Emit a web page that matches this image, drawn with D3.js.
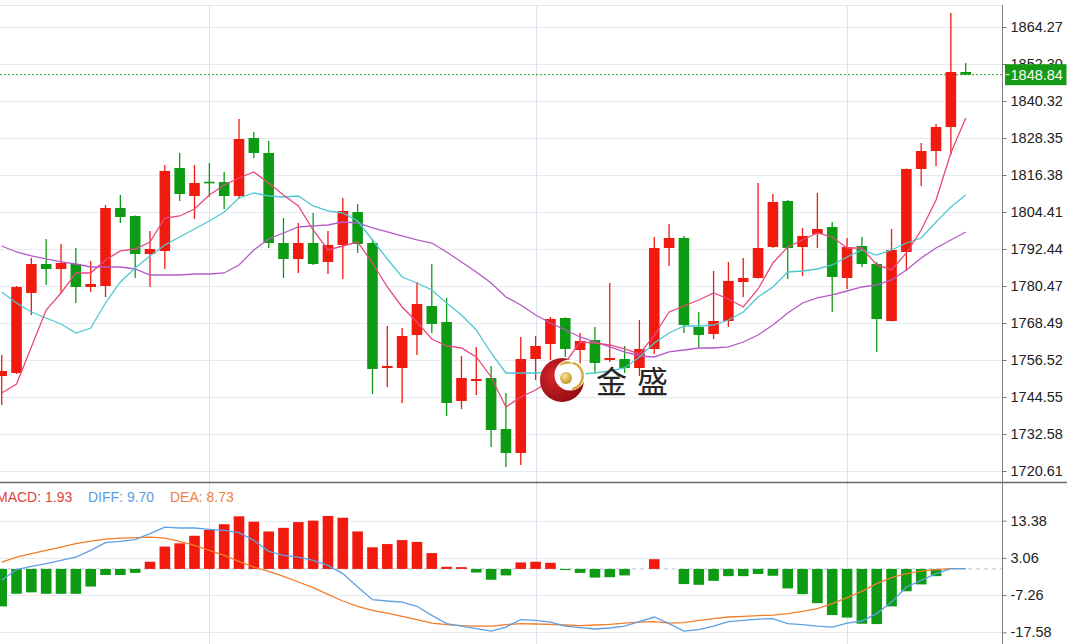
<!DOCTYPE html>
<html><head><meta charset="utf-8">
<script src="https://cdn.jsdelivr.net/npm/d3@7"></script>
<style>body{margin:0;background:#fff;} svg{display:block;}</style>
</head><body><svg id="c" width="1067" height="644"></svg>
<script>
// ---------- DATA ----------
const openP = [1751.35,1752.32,1778.21,1787.59,1785.97,1787.59,1780.15,1780.47,1805.71,1803.12,
1790.83,1791.80,1818.65,1809.59,1814.20,1814.10,1809.59,1828.36,1823.51,1794.38,
1789.21,1794.38,1788.24,1793.74,1804.42,1794.38,1753.94,1753.94,1764.62,1774.00,
1768.82,1743.26,1749.73,1750.70,1734.20,1726.44,1756.85,1761.71,1770.12,1759.76,
1763.00,1756.53,1756.85,1753.94,1760.09,1792.77,1796.00,1767.21,1764.94,1769.15,
1781.77,1783.06,1793.09,1807.97,1793.09,1797.30,1799.56,1783.06,1793.41,1787.59,
1769.15,1791.47,1818.33,1824.15,1831.92,1849.71];
const highP = [1758.15,1780.47,1789.53,1795.68,1794.06,1792.77,1788.56,1806.68,1809.92,1803.30,
1798.27,1819.62,1823.51,1819.62,1820.27,1817.36,1834.51,1830.30,1827.39,1802.47,
1800.86,1804.09,1798.27,1808.95,1807.00,1795.68,1767.53,1766.88,1781.77,1787.59,
1776.59,1757.82,1760.74,1754.59,1745.85,1763.97,1764.29,1770.44,1770.30,1765.26,
1767.21,1781.44,1761.06,1769.47,1796.33,1800.53,1796.65,1772.06,1785.32,1788.24,
1789.53,1813.80,1810.24,1808.30,1799.24,1810.56,1801.18,1796.00,1796.33,1788.24,
1798.91,1818.50,1826.74,1832.89,1868.80,1852.63];
const lowP = [1741.97,1752.00,1771.09,1780.80,1778.21,1774.97,1778.53,1776.91,1800.86,1783.06,
1780.15,1785.97,1807.97,1802.15,1809.27,1805.39,1808.62,1821.89,1792.77,1783.06,
1784.68,1787.27,1784.35,1782.74,1791.15,1745.53,1747.79,1742.62,1758.15,1765.26,
1738.41,1740.67,1745.20,1728.38,1721.91,1722.55,1750.06,1756.53,1757.50,1753.29,
1752.32,1755.88,1752.32,1751.35,1758.47,1786.94,1765.26,1760.74,1763.32,1767.21,
1776.91,1782.90,1792.77,1782.74,1783.71,1792.77,1772.06,1779.50,1786.62,1759.12,
1769.00,1785.32,1812.83,1819.30,1822.86,1848.70];
const closeP = [1752.97,1780.15,1787.59,1785.97,1787.91,1780.15,1781.12,1805.71,1802.80,1790.83,
1792.44,1817.68,1810.24,1813.80,1814.00,1809.59,1828.03,1823.51,1794.38,1789.21,
1794.38,1787.59,1793.74,1804.74,1794.06,1753.62,1754.59,1764.29,1774.65,1768.18,
1742.62,1750.70,1750.38,1733.88,1726.44,1756.85,1761.06,1769.79,1760.09,1762.68,
1755.56,1757.17,1753.94,1760.09,1792.77,1796.00,1767.85,1764.62,1769.15,1782.09,
1783.06,1792.77,1807.65,1792.77,1796.65,1798.91,1783.38,1793.09,1787.59,1769.79,
1792.12,1818.33,1824.15,1831.92,1849.71,1848.84];

const ma5 = [1745.85,1748.76,1760.74,1772.71,1778.21,1784.68,1784.68,1788.88,1791.80,1792.44,
1794.71,1802.47,1803.12,1805.39,1809.92,1813.15,1815.42,1817.36,1813.80,1809.92,
1806.36,1798.59,1792.12,1793.41,1794.71,1787.91,1780.15,1773.68,1768.82,1763.32,
1761.06,1760.41,1757.50,1751.03,1741.32,1744.56,1746.82,1750.06,1755.56,1762.35,
1762.03,1761.38,1760.09,1758.47,1764.50,1772.06,1774.00,1775.94,1778.21,1776.27,
1773.68,1779.50,1787.91,1793.09,1795.36,1797.62,1796.33,1792.77,1792.77,1787.27,
1785.65,1791.15,1798.59,1808.30,1823.51,1834.83];
const ma10 = [1778.53,1774.97,1772.06,1770.12,1768.18,1765.26,1766.88,1774.97,1781.77,1786.30,
1790.18,1793.74,1796.33,1798.91,1801.50,1804.42,1808.95,1810.56,1809.59,1809.27,
1809.59,1806.36,1804.74,1804.09,1801.50,1795.36,1789.21,1783.38,1781.44,1779.18,
1774.97,1771.09,1766.24,1758.79,1752.32,1752.32,1752.32,1752.65,1752.97,1752.00,
1752.32,1752.97,1753.94,1757.50,1762.03,1765.26,1767.53,1767.53,1767.85,1769.47,
1772.06,1776.91,1780.15,1785.00,1785.32,1785.97,1787.27,1789.86,1792.12,1790.50,
1792.12,1794.38,1796.00,1801.18,1806.03,1809.92];
const ma20 = [1793.41,1791.47,1790.18,1789.21,1788.24,1787.59,1786.62,1786.62,1786.62,1785.97,
1784.03,1784.03,1784.03,1784.35,1784.35,1784.68,1787.27,1792.12,1795.68,1797.62,
1799.56,1799.89,1800.21,1801.18,1800.86,1799.24,1797.95,1796.65,1795.36,1794.38,
1791.47,1788.24,1785.00,1781.44,1776.91,1774.32,1771.09,1768.50,1766.24,1763.97,
1762.35,1760.74,1759.12,1757.82,1757.50,1759.12,1759.76,1760.41,1760.41,1760.74,
1762.35,1764.62,1767.85,1771.74,1774.97,1776.59,1777.56,1778.85,1780.15,1780.80,
1782.42,1785.65,1789.53,1792.77,1795.36,1797.95];

const macdHist = [-10.4,-6.9,-6.5,-6.9,-6.9,-6.9,-4.9,-1.7,-1.7,-1.1,
2.0,6.2,7.1,9.2,10.8,12.4,14.6,13.1,10.4,11.4,
13.0,13.4,14.7,14.2,10.4,6.0,6.9,8.0,7.5,4.4,
0.6,0.5,-1.0,-3.0,-1.8,1.8,2.0,1.7,-0.3,-1.1,
-2.4,-2.3,-1.8,0,2.7,0,-4.2,-4.4,-3.3,-2.0,
-2.0,-1.4,-1.9,-5.4,-7.0,-9.5,-12.8,-13.5,-15.2,-15.3,
-10.4,-6.2,-4.3,-2.0,0,0];
const diffLine = [-3.16,-0.19,0.72,1.47,2.39,3.30,5.16,7.30,7.66,8.13,
9.79,11.62,11.35,11.35,10.99,10.71,10.07,7.93,4.88,3.77,
3.30,2.39,1.00,-1.30,-5.02,-8.52,-8.90,-9.18,-10.37,-12.87,
-15.17,-15.84,-16.56,-17.23,-16.12,-14.06,-14.26,-14.73,-15.84,-16.28,
-16.67,-16.39,-15.84,-14.62,-13.34,-15.17,-17.23,-16.84,-15.84,-14.62,
-14.26,-13.90,-13.79,-15.17,-15.45,-15.84,-16.12,-15.01,-14.45,-12.40,
-9.18,-5.02,-3.16,-1.30,0.08,0.08];
const deaLine = [1.91,3.30,4.24,5.16,6.08,7.02,7.74,8.29,8.57,8.68,
8.85,8.57,7.66,6.55,5.16,3.77,2.11,0.53,-0.67,-2.05,
-3.63,-5.19,-7.05,-8.90,-10.37,-11.48,-12.23,-13.15,-14.06,-15.01,
-15.45,-15.73,-15.84,-15.84,-15.45,-15.17,-15.28,-15.37,-15.56,-15.73,
-15.56,-15.37,-15.01,-14.73,-14.62,-15.01,-14.90,-14.26,-13.79,-13.34,
-13.15,-12.95,-12.82,-12.40,-11.76,-11.01,-9.63,-7.96,-6.21,-4.08,
-2.41,-1.30,-0.58,-0.19,0.08,0.08];

const priceTicks = [1864.27,1852.30,1840.32,1828.35,1816.38,1804.41,1792.44,1780.47,1768.49,1756.52,1744.55,1732.58,1720.61];
const macdTicks = [13.38,3.06,-7.26,-17.58];
const lastPrice = 1848.84;
const dayBreaks = [14, 36, 57];
const macdLabels = [{t:"MACD: 1.93",c:"#e0443f"},{t:"DIFF: 9.70",c:"#5b9de2"},{t:"DEA: 8.73",c:"#f0813c"}];
const logoText = ["金","盛"];

// ---------- LAYOUT ----------
const W = 1067, H = 644, axisX = 1002.5, sepY = 482.5;
const svg = d3.select("#c");
const n = closeP.length;
const xS = d3.scaleLinear().domain([0, n - 1]).range([1.7, 965.7]);
const yP = d3.scaleLinear().domain([1720.61, 1864.27]).range([471, 27]);
const yM = d3.scaleLinear().domain([-17.58, 13.38]).range([632.3, 520.7]);
const bw = 10.6;
const UP = "#f01a0e", DOWN = "#0e9b14";
const font = "'Liberation Sans', Arial, sans-serif";

const defs = svg.append("defs");
defs.append("clipPath").attr("id","clipP").append("rect").attr("x",0).attr("y",5).attr("width",axisX).attr("height",sepY-5);
defs.append("clipPath").attr("id","clipM").append("rect").attr("x",0).attr("y",sepY).attr("width",axisX).attr("height",H-sepY);

svg.append("rect").attr("width",W).attr("height",H).attr("fill","#fff");

// grids
const grid = svg.append("g");
grid.selectAll("line.hp").data(priceTicks).join("line")
  .attr("x1",0).attr("x2",axisX).attr("y1",d=>Math.round(yP(d))+0.5).attr("y2",d=>Math.round(yP(d))+0.5)
  .attr("stroke","#e5ebf1").attr("stroke-width",1);
grid.selectAll("line.hm").data(macdTicks).join("line")
  .attr("x1",0).attr("x2",axisX).attr("y1",d=>Math.round(yM(d))+0.5).attr("y2",d=>Math.round(yM(d))+0.5)
  .attr("stroke","#e5ebf1").attr("stroke-width",1);
grid.selectAll("line.v").data(dayBreaks).join("line")
  .attr("x1",d=>Math.round(xS(d))+0.5).attr("x2",d=>Math.round(xS(d))+0.5).attr("y1",5).attr("y2",H)
  .attr("stroke","#dbe4ee").attr("stroke-width",1);
grid.append("line").attr("x1",0).attr("x2",axisX).attr("y1",5.5).attr("y2",5.5).attr("stroke","#e6e6e6");

// price panel
const pg = svg.append("g").attr("clip-path","url(#clipP)");
pg.append("line").attr("x1",0).attr("x2",axisX).attr("y1",yP(lastPrice)).attr("y2",yP(lastPrice))
  .attr("stroke","#22a022").attr("stroke-width",1).attr("stroke-dasharray","2,2");

const idx = d3.range(n);
const isUp = i => closeP[i] >= openP[i];
pg.selectAll("line.wick").data(idx).join("line")
  .attr("x1",i=>xS(i)).attr("x2",i=>xS(i))
  .attr("y1",i=>yP(highP[i])).attr("y2",i=>yP(lowP[i]))
  .attr("stroke",i=>isUp(i)?UP:DOWN).attr("stroke-width",1.3);
pg.selectAll("rect.body").data(idx).join("rect")
  .attr("x",i=>xS(i)-bw/2)
  .attr("y",i=>yP(Math.max(openP[i],closeP[i])))
  .attr("width",bw)
  .attr("height",i=>Math.max(1.6, Math.abs(yP(openP[i])-yP(closeP[i]))))
  .attr("fill",i=>isUp(i)?UP:DOWN);

const lineP = d3.line().x((d,i)=>xS(i)).y(d=>yP(d));
[[ma20,"#b45bc8"],[ma10,"#4ec8d2"],[ma5,"#e9487f"]].forEach(([arr,c])=>{
  pg.append("path").attr("d",lineP(arr)).attr("fill","none").attr("stroke",c).attr("stroke-width",1.3);
});

// MACD panel
const mg = svg.append("g").attr("clip-path","url(#clipM)");
mg.append("line").attr("x1",0).attr("x2",axisX).attr("y1",yM(0)).attr("y2",yM(0))
  .attr("stroke","#b3c6d8").attr("stroke-width",1).attr("stroke-dasharray","4,4");
mg.selectAll("rect.bar").data(idx).join("rect")
  .attr("x",i=>xS(i)-bw/2)
  .attr("y",i=>Math.min(yM(0),yM(macdHist[i])))
  .attr("width",bw)
  .attr("height",i=>Math.abs(yM(macdHist[i])-yM(0)))
  .attr("fill",i=>macdHist[i]>=0?UP:DOWN);
const lineM = d3.line().x((d,i)=>xS(i)).y(d=>yM(d));
mg.append("path").attr("d",lineM(deaLine)).attr("fill","none").attr("stroke","#f27d2b").attr("stroke-width",1.3);
mg.append("path").attr("d",lineM(diffLine)).attr("fill","none").attr("stroke","#5ea0e4").attr("stroke-width",1.3);

// MACD legend
const lg = svg.append("text").attr("y",501.5).attr("font-family",font).attr("font-size",14);
const lx = [-4, 88, 170];
macdLabels.forEach((l,k)=>{
  svg.append("text").attr("x",lx[k]).attr("y",501.5).attr("font-family",font).attr("font-size",14)
    .attr("fill",l.c).text(l.t);
});

// separator + axis line
svg.append("line").attr("x1",0).attr("x2",W).attr("y1",sepY).attr("y2",sepY).attr("stroke","#6a6a6a").attr("stroke-width",1.5);
svg.append("line").attr("x1",axisX).attr("x2",axisX).attr("y1",5).attr("y2",H).attr("stroke","#808080").attr("stroke-width",1);

// axes
const ax1 = svg.append("g").attr("transform",`translate(${axisX},0)`)
  .call(d3.axisRight(yP).tickValues(priceTicks).tickFormat(d=>d.toFixed(2)).tickSize(4).tickPadding(4));
const ax2 = svg.append("g").attr("transform",`translate(${axisX},0)`)
  .call(d3.axisRight(yM).tickValues(macdTicks).tickFormat(d=>d.toFixed(2)).tickSize(4).tickPadding(4));
[ax1,ax2].forEach(a=>{
  a.select(".domain").remove();
  a.selectAll(".tick line").attr("stroke","#777");
  a.selectAll(".tick text").attr("font-family",font).attr("font-size",14.5).attr("fill","#222");
});

// last price tag
const ly = yP(lastPrice);
svg.append("rect").attr("x",axisX+2.5).attr("y",ly-10.5).attr("width",W-axisX-3).attr("height",21).attr("fill","#169a16");
svg.append("line").attr("x1",axisX+3).attr("x2",axisX+7).attr("y1",ly).attr("y2",ly).attr("stroke","#fff");
svg.append("text").attr("x",axisX+8).attr("y",ly).attr("dy","0.35em").attr("font-family",font).attr("font-size",14.5)
  .attr("fill","#fff").text(lastPrice.toFixed(2));

// logo
const rg = defs.append("radialGradient").attr("id","redG").attr("cx","35%").attr("cy","40%").attr("r","70%");
rg.append("stop").attr("offset","0%").attr("stop-color","#d8262b");
rg.append("stop").attr("offset","100%").attr("stop-color","#8e0c12");
const gg = defs.append("radialGradient").attr("id","goldG").attr("cx","40%").attr("cy","35%").attr("r","65%");
gg.append("stop").attr("offset","0%").attr("stop-color","#fbe59a");
gg.append("stop").attr("offset","100%").attr("stop-color","#c5961e");
const logo = svg.append("g");
logo.append("circle").attr("cx",562).attr("cy",380).attr("r",22).attr("fill","url(#redG)");
logo.append("circle").attr("cx",570).attr("cy",375).attr("r",15.5).attr("fill","#fff");
const arc = d3.arc().innerRadius(12.5).outerRadius(15).startAngle(0.3).endAngle(2.9);
logo.append("path").attr("d",arc()).attr("transform","translate(569,376)").attr("fill","#d8ab3a");
logo.append("path").attr("d","M559,366 C562,360 570,360 574,364 C569,363 564,364 559,366 Z").attr("fill","#d8ab3a");
logo.append("circle").attr("cx",566).attr("cy",378).attr("r",6).attr("fill","url(#goldG)");
logoText.forEach((t,k)=>{
  logo.append("text").attr("x",596 + k*41).attr("y",393).attr("font-family","'Noto Sans CJK SC', sans-serif")
    .attr("font-size",31).attr("fill","#262626").text(t);
});
</script>
</body></html>
